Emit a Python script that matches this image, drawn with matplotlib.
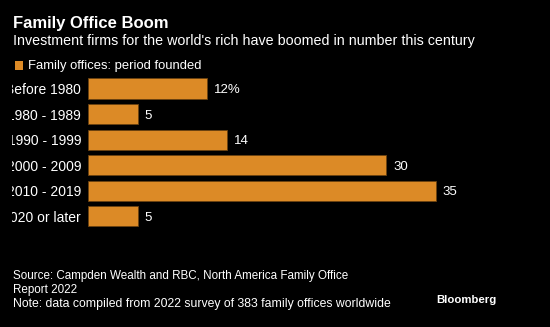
import matplotlib
matplotlib.use("Agg")
import matplotlib.pyplot as plt
from matplotlib.transforms import Bbox, TransformedBbox

# data
periods = ["Before 1980", "1980 - 1989", "1990 - 1999", "2000 - 2009", "2010 - 2019", "2020 or later"]
offices = [12, 5, 14, 30, 35, 5]
value_labels = ["12%", "5", "14", "30", "35", "5"]

W, H = 550, 327
bar_color = "#DC8A26"
font = "Liberation Sans"

fig = plt.figure(figsize=(W / 100, H / 100), dpi=100, facecolor="black")
renderer = fig.canvas.get_renderer()


def fit_text(x, y, s, width_px, size, **kw):
    # shrink/grow the font so the text spans the same width as in the reference
    t = fig.text(x / W, 1 - y / H, s, color="white", fontsize=size, family=font,
                 va="center_baseline", ha="left", **kw)
    w = t.get_window_extent(renderer).width
    t.set_fontsize(size * width_px / w)
    return t


# axes placed in pixel terms
left, right_px = 88, 88 + 397.6
top_px, bot_px = 75.7, 229.1
ax = fig.add_axes([left / W, 1 - bot_px / H, (right_px - left) / W, (bot_px - top_px) / H])
ax.set_facecolor("black")

y = range(len(periods))
ax.barh(y, offices, height=0.79, color=bar_color, edgecolor="#6b4210", linewidth=0.6)
ax.set_xlim(0, 40)
ax.set_ylim(len(periods) - 0.5, -0.5)

for i, (v, lab) in enumerate(zip(offices, value_labels)):
    ax.annotate(lab, (v, i), xytext=(5, 0), textcoords="offset points",
                va="center_baseline", ha="left", color="white", fontsize=9.5, family=font)

ax.set_yticks(list(y))
ax.set_yticklabels(periods, color="white", fontsize=10, family=font)
ax.tick_params(axis="y", length=0, pad=5)
ax.set_xticks([])
for s in ax.spines.values():
    s.set_visible(False)

# labels on the left are clipped by the chart padding
clip = TransformedBbox(Bbox([[12 / W, 0], [1, 1]]), fig.transFigure)
for t in ax.get_yticklabels():
    t.set_clip_box(clip)
    t.set_clip_on(True)

# header
fit_text(13, 22, "Family Office Boom", 157, 11.5, fontweight="bold")
fit_text(13, 39.5, "Investment firms for the world's rich have boomed in number this century", 459, 10)

# legend
fig.patches.append(plt.Rectangle((15 / W, 1 - 70 / H), 7.5 / W, 9.5 / H, transform=fig.transFigure,
                                 facecolor=bar_color, edgecolor="none"))
fit_text(28, 64.5, "Family offices: period founded", 173, 9.5)

# footer
fit_text(13, 275, "Source: Campden Wealth and RBC, North America Family Office", 333, 9.3)
fit_text(13, 288.5, "Report 2022", 64, 9.3)
fit_text(13, 302, "Note: data compiled from 2022 survey of 383 family offices worldwide", 377, 9.3)
fit_text(436, 299, "Bloomberg", 60, 8.3, fontweight="bold")

fig.savefig("out.png", dpi=100, facecolor="black")
